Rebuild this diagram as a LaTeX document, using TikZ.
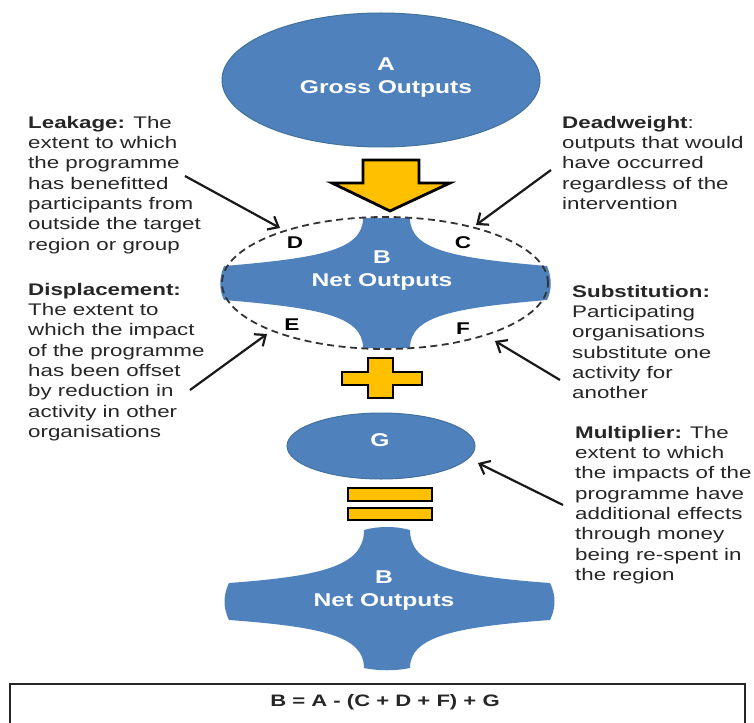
\documentclass[tikz,border=0pt]{standalone}
\usepackage{fontspec}
\usetikzlibrary{shapes.geometric,arrows.meta}
\setmainfont{Liberation Sans}
\newfontfamily\widefont[FakeStretch=1.33]{Liberation Sans}
\definecolor{oblue}{HTML}{4F81BD}
\definecolor{oblueline}{HTML}{41719C}
\definecolor{oyellow}{HTML}{FFC000}
\definecolor{txtgray}{HTML}{262626}
\tikzset{
  blueell/.style={ellipse, draw=oblueline, line width=1pt, fill=oblue, inner sep=0pt},
  bluefill/.style={fill=oblue},
  yelshape/.style={fill=oyellow, draw=black, line width=2.8pt, line join=miter},
  intext/.style={text=white, font=\widefont\bfseries\fontsize{18.5}{23}\selectfont, align=center, inner sep=0pt},
  sidetext/.style={text=txtgray, font=\widefont\fontsize{16.8}{20.3}\selectfont, align=left, inner sep=0pt, anchor=north west},
  letter/.style={text=black, font=\widefont\bfseries\fontsize{17}{20}\selectfont, inner sep=0pt},
  arr/.style={-{Straight Barb[length=9pt,width=15pt,line width=2.2pt]}, line width=2.2pt, black!90},
  dashell/.style={draw=black!80, line width=1.8pt, dash pattern=on 7pt off 4.5pt}
}
\begin{document}
\begin{tikzpicture}[x=1pt,y=-1pt]
\useasboundingbox (0,0) rectangle (754,722);
\clip (0,0) rectangle (754,722);
\fill[white] (0,0) rectangle (754,722);

% A ellipse
\node[blueell, minimum width=318pt, minimum height=134pt] (A) at (381,80) {};
\node[intext] (Atext) at (386,78) {A\\Gross Outputs};

% down arrow
\draw[yelshape] (363,160) -- (419,160) -- (419,183) -- (450,183) -- (390,211) -- (332,183) -- (363,183) -- cycle;

% B net outputs (top)
\fill[bluefill] (363,218) -- (410,218)
  .. controls (410,250) and (453,258) .. (547,266)
  .. controls (552,278) and (552,290) .. (547,300)
  .. controls (453,308) and (410,316) .. (410,348)
  -- (363,348)
  .. controls (363,316) and (320,308) .. (224,300)
  .. controls (219,290) and (219,278) .. (224,266)
  .. controls (320,258) and (363,250) .. (363,218) -- cycle;
\coordinate (Bc) at (385,283);
\draw[dashell] (Bc) ellipse [x radius=163pt, y radius=66pt];
\node[intext] (Btext) at (382,271) {B\\Net Outputs};
\node[letter] (D) at (295,243) {D};
\node[letter] (C) at (463,243) {C};
\node[letter] (E) at (292,325) {E};
\node[letter] (F) at (463,329) {F};

% plus
\draw[yelshape] (368,358) -- (393,358) -- (393,372) -- (422,372) -- (422,385) -- (393,385) -- (393,398) -- (368,398) -- (368,385) -- (342,385) -- (342,372) -- (368,372) -- cycle;

% G ellipse
\node[blueell, minimum width=188pt, minimum height=66pt] (G) at (381,446) {};
\node[intext] (Gtext) at (380,440) {G};

% equals
\draw[yelshape] (348,488) rectangle (432,501);
\draw[yelshape] (348,508) rectangle (432,520);

% B net outputs (bottom)
\fill[bluefill] (364,530)
  .. controls (378,526) and (396,526) .. (410,530)
  .. controls (410,565) and (453,576) .. (550,583)
  .. controls (556,595) and (556,608) .. (550,620)
  .. controls (453,627) and (410,637) .. (410,668)
  .. controls (396,671) and (378,671) .. (364,668)
  .. controls (364,637) and (325,627) .. (229,620)
  .. controls (223,608) and (223,595) .. (229,583)
  .. controls (325,576) and (364,565) .. (364,530) -- cycle;
\node[intext] (B2text) at (384,591) {B\\Net Outputs};

% formula box
\draw[line width=1.6pt, black!85] (10,730) -- (10,684) -- (745,684) -- (745,730);
\node[font=\widefont\bfseries\fontsize{16.6}{20}\selectfont, text=txtgray, inner sep=0pt] (formula) at (385,702) {B = A - (C + D + F) + G};

% side texts
\node[sidetext] (leak) at (28,116) {\textbf{Leakage:} The\\extent to which\\the programme\\has benefitted\\participants from\\outside the target\\region or group};
\node[sidetext] (disp) at (28,283) {\textbf{Displacement:}\\The extent to\\which the impact\\of the programme\\has been offset\\by reduction in\\activity in other\\organisations};
\node[sidetext] (dead) at (562,116) {\textbf{Deadweight}:\\outputs that would\\have occurred\\regardless of the\\intervention};
\node[sidetext] (subs) at (572,285) {\textbf{Substitution:}\\Participating\\organisations\\substitute one\\activity for\\another};
\node[sidetext] (mult) at (575,426) {\textbf{Multiplier:} The\\extent to which\\the impacts of the\\programme have\\additional effects\\through money\\being re-spent in\\the region};

% arrows
\coordinate (leakT) at (185,176);
\coordinate (leakH) at (280,228);
\coordinate (dispT) at (190,390);
\coordinate (dispH) at (267,334);
\coordinate (deadT) at (551,170);
\coordinate (deadH) at (476,225);
\coordinate (subsT) at (560,380);
\coordinate (subsH) at (495,341);
\coordinate (multT) at (563,505);
\coordinate (multH) at (478,463);
\draw[arr] (leakT) -- (leakH);
\draw[arr] (dispT) -- (dispH);
\draw[arr] (deadT) -- (deadH);
\draw[arr] (subsT) -- (subsH);
\draw[arr] (multT) -- (multH);
\end{tikzpicture}
\end{document}
